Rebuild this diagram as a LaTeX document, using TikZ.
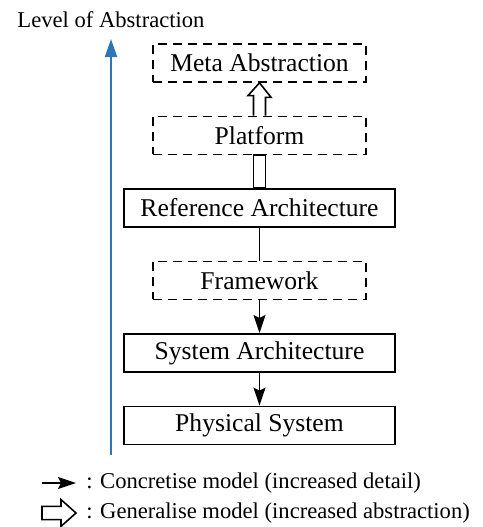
\documentclass[tikz,border=0pt]{standalone}
\usepackage{fontspec}
\setmainfont{Liberation Serif}
\usetikzlibrary{positioning,arrows.meta,calc}
\definecolor{levelblue}{RGB}{46,117,182}

\begin{document}
\begin{tikzpicture}[
  x=0.5pt, y=-0.5pt,
  node distance=16.4pt,
  every node/.style={font=\fontsize{12.8}{15}\selectfont},
  solidbox/.style={draw, line width=0.9pt, minimum width=135.5pt,
                   minimum height=19pt, inner sep=0pt},
  dashbox/.style={draw, line width=0.8pt, dash pattern=on 4.5pt off 3pt,
                  minimum width=106.5pt, minimum height=19pt, inner sep=0pt},
  legtext/.style={font=\fontsize{11.3}{13}\selectfont, anchor=west, inner sep=0pt},
  arr/.style={-{Stealth[length=9pt,width=6pt,inset=1.5pt]}, line width=0.8pt},
  hollow/.style={line width=0.8pt, fill=white, line join=miter},
  level/.style={-{Triangle[length=9pt,width=6pt]}, line width=1.1pt, levelblue}]

\useasboundingbox (0,0) rectangle (483,527);

\node[dashbox] (meta) at (259.5,63) {Meta Abstraction};
\node[dashbox,  below=of meta]  (plat)  {Platform};
\node[solidbox, below=of plat]  (ref)   {Reference Architecture};
\node[dashbox,  below=of ref]   (frame) {Framework};
\node[solidbox, below=of frame] (sys)   {System Architecture};
\node[solidbox, below=of sys]   (phys)  {Physical System};

%% level of abstraction axis
\node[font=\fontsize{11.3}{13}\selectfont] (lvl) at (111,20) {Level of Abstraction};
\coordinate (axbot) at (111,455);
\coordinate (axtop) at (111,39);
\draw[level] (axbot) -- (axtop);

%% generalise: Platform -> Meta Abstraction
\draw[hollow] ($(plat.north)+(-3pt,0)$) -- ++(0,10pt) -- ++(-2.75pt,0)
    -- (meta.south) -- ++(5.75pt,-7.25pt) -- ++(-2.75pt,0)
    -- ($(plat.north)+(3pt,0)$);
%% Reference Architecture -> Platform (open shaft)
\draw[hollow] ($(ref.north)+(-3pt,0)$) rectangle ($(plat.south)+(3pt,0)$);

%% concretise chain
\draw[line width=0.8pt] (ref) -- (frame);
\draw[arr] (frame) -- (sys);
\draw[arr] (sys)   -- (phys);

%% legend
\node[legtext] (leg1) at (86,483) {: Concretise model (increased detail)};
\node[legtext] (leg2) at (86,513) {: Generalise model (increased abstraction)};
\draw[arr] ($(leg1.west)+(-22pt,0)$) -- ($(leg1.west)+(-5pt,0)$);
\draw[hollow] ($(leg2.west)+(-22pt,3.3pt)$) -- ++(9.5pt,0) -- ++(0,3.4pt)
    -- ($(leg2.west)+(-5pt,0)$) -- ++(-7.5pt,-6.7pt) -- ++(0,3.4pt)
    -- ++(-9.5pt,0) -- cycle;
\end{tikzpicture}
\end{document}
